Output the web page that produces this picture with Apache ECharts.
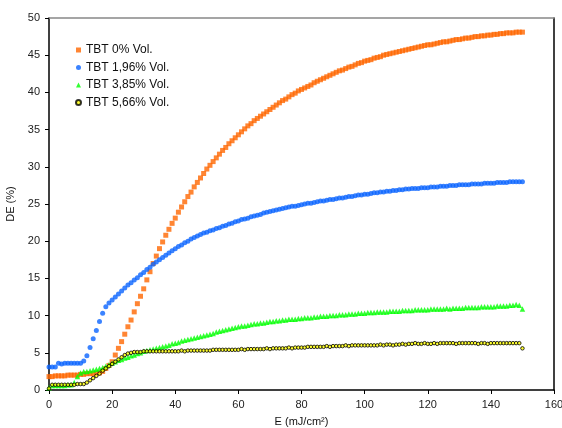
<!DOCTYPE html>
<html>
<head>
<meta charset="utf-8">
<script src="https://cdn.jsdelivr.net/npm/echarts@6/dist/echarts.min.js"></script>
<style>html,body{margin:0;padding:0;background:#fff}#c{width:562px;height:428px}</style>
</head>
<body>
<div id="c"></div>
<script>
var E = [0,1,2,3,4,5,6,7,8,9,10,11,12,13,14,15,16,17,18,19,20,21,22,23,24,25,26,27,28,29,30,31,32,33,34,35,36,37,38,39,40,41,42,43,44,45,46,47,48,49,50,51,52,53,54,55,56,57,58,59,60,61,62,63,64,65,66,67,68,69,70,71,72,73,74,75,76,77,78,79,80,81,82,83,84,85,86,87,88,89,90,91,92,93,94,95,96,97,98,99,100,101,102,103,104,105,106,107,108,109,110,111,112,113,114,115,116,117,118,119,120,121,122,123,124,125,126,127,128,129,130,131,132,133,134,135,136,137,138,139,140,141,142,143,144,145,146,147,148,149,150];

var tbt0 = [1.8,1.8,1.9,1.9,1.9,1.9,2.0,2.0,2.0,2.0,
2.1,2.1,2.2,2.2,2.2,2.3,2.3,2.5,2.9,3.3,
3.8,4.7,5.6,6.5,7.5,8.5,9.4,10.5,11.6,12.6,
13.6,14.8,15.9,17.0,18.0,19.0,19.9,20.8,21.6,22.4,
23.1,23.9,24.6,25.3,26.0,26.6,27.3,27.9,28.5,29.1,
29.7,30.2,30.7,31.2,31.7,32.2,32.6,33.1,33.5,33.9,
34.3,34.7,35.1,35.5,35.8,36.2,36.5,36.8,37.1,37.4,
37.7,38.0,38.3,38.6,38.9,39.1,39.4,39.7,39.9,40.2,
40.4,40.6,40.8,41.0,41.3,41.5,41.7,41.9,42.1,42.3,
42.5,42.7,42.9,43.0,43.2,43.4,43.5,43.7,43.9,44.0,
44.2,44.3,44.4,44.6,44.7,44.8,45.0,45.1,45.2,45.3,
45.4,45.5,45.6,45.7,45.8,45.9,46.0,46.1,46.2,46.3,
46.4,46.4,46.5,46.6,46.7,46.8,46.8,46.9,47.0,47.1,
47.1,47.2,47.3,47.3,47.4,47.5,47.5,47.6,47.6,47.7,
47.7,47.8,47.8,47.9,47.9,48.0,48.0,48.0,48.1,48.1,
48.1];

var tbt196 = [3.1,3.1,3.1,3.6,3.5,3.6,3.6,3.6,3.6,3.6,
3.6,3.9,4.6,5.7,6.9,8.0,9.2,10.3,11.2,11.7,
12.1,12.5,12.9,13.3,13.7,14.1,14.4,14.8,15.1,15.5,
15.8,16.2,16.5,16.9,17.2,17.5,17.8,18.1,18.4,18.7,
19.0,19.3,19.5,19.8,20.0,20.3,20.5,20.7,20.9,21.1,
21.2,21.4,21.5,21.7,21.8,22.0,22.1,22.3,22.4,22.6,
22.7,22.9,23.0,23.1,23.3,23.4,23.5,23.6,23.8,23.9,
24.0,24.1,24.2,24.3,24.4,24.5,24.6,24.7,24.7,24.8,
24.9,25.0,25.1,25.1,25.2,25.3,25.4,25.4,25.5,25.6,
25.6,25.7,25.8,25.8,25.9,26.0,26.0,26.1,26.2,26.2,
26.3,26.3,26.4,26.5,26.5,26.6,26.6,26.7,26.7,26.8,
26.8,26.9,26.9,27.0,27.0,27.1,27.1,27.1,27.2,27.2,
27.2,27.3,27.3,27.3,27.4,27.4,27.4,27.5,27.5,27.5,
27.6,27.6,27.6,27.6,27.7,27.7,27.7,27.7,27.8,27.8,
27.8,27.8,27.9,27.9,27.9,27.9,28.0,28.0,28.0,28.0,
28.0];

var tbt385 = [0.3,0.6,0.6,0.6,0.6,0.6,0.7,0.7,1.0,1.8,
2.3,2.5,2.5,2.6,2.7,2.8,2.9,3.0,3.2,3.4,
3.6,3.8,4.0,4.1,4.3,4.4,4.6,4.7,4.9,5.0,
5.2,5.3,5.4,5.5,5.6,5.7,5.8,5.9,6.0,6.2,
6.3,6.4,6.6,6.7,6.8,6.9,7.0,7.1,7.2,7.3,
7.4,7.5,7.6,7.8,7.9,8.0,8.1,8.2,8.3,8.4,
8.5,8.6,8.6,8.7,8.8,8.9,8.9,9.0,9.0,9.1,
9.2,9.2,9.3,9.3,9.4,9.4,9.5,9.5,9.5,9.6,
9.6,9.7,9.7,9.7,9.8,9.8,9.9,9.9,9.9,10.0,
10.0,10.0,10.1,10.1,10.1,10.2,10.2,10.2,10.3,10.3,
10.3,10.4,10.4,10.4,10.5,10.5,10.5,10.5,10.6,10.6,
10.6,10.6,10.7,10.7,10.7,10.7,10.8,10.8,10.8,10.8,
10.8,10.9,10.9,10.9,10.9,10.9,11.0,10.9,11.0,11.0,
11.0,11.0,11.1,11.1,11.1,11.1,11.1,11.2,11.2,11.2,
11.2,11.2,11.3,11.3,11.3,11.3,11.4,11.4,11.5,11.4,
10.9];

var tbt566 = [0.2,0.7,0.7,0.7,0.7,0.7,0.7,0.7,0.7,0.8,
0.8,0.8,1.0,1.3,1.6,1.9,2.2,2.6,2.9,3.2,
3.5,3.8,4.1,4.4,4.7,4.9,5.0,5.1,5.1,5.1,
5.2,5.2,5.2,5.2,5.2,5.2,5.2,5.2,5.2,5.2,
5.2,5.2,5.3,5.2,5.3,5.3,5.3,5.3,5.3,5.3,
5.3,5.3,5.4,5.4,5.4,5.4,5.4,5.4,5.4,5.4,
5.4,5.5,5.4,5.5,5.5,5.5,5.5,5.5,5.5,5.6,
5.5,5.6,5.6,5.6,5.6,5.6,5.7,5.6,5.7,5.7,
5.7,5.7,5.8,5.8,5.8,5.8,5.8,5.8,5.9,5.8,
5.9,5.9,5.9,5.9,6.0,5.9,6.0,6.0,6.0,6.0,
6.0,6.0,6.0,6.0,6.0,6.1,6.0,6.1,6.1,6.0,
6.1,6.1,6.2,6.1,6.2,6.2,6.3,6.2,6.2,6.3,
6.2,6.2,6.3,6.2,6.3,6.3,6.3,6.3,6.3,6.2,
6.3,6.3,6.3,6.3,6.3,6.3,6.2,6.3,6.3,6.2,
6.3,6.3,6.3,6.3,6.3,6.3,6.3,6.3,6.3,6.3,
5.6];

var seriesNames = ['TBT 0% Vol.', 'TBT 1,96% Vol.', 'TBT 3,85% Vol.', 'TBT 5,66% Vol.'];
var xTicks = [0, 20, 40, 60, 80, 100, 120, 140, 160];
var yTicks = [0, 5, 10, 15, 20, 25, 30, 35, 40, 45, 50];

function pairs(ys) { return ys.map(function (v, i) { return [E[i], v]; }); }

var font = 'Liberation Sans, Arial, sans-serif';
var chart = echarts.init(document.getElementById('c'), null, { renderer: 'canvas' });
chart.setOption({
  animation: false,
  backgroundColor: '#ffffff',
  grid: { left: 49, right: 8, top: 18, bottom: 38, containLabel: false, outerBoundsMode: 'none' },
  legend: {
    orient: 'vertical', left: 70, top: 39, itemGap: 5.5,
    itemWidth: 5, itemHeight: 5,
    textStyle: { fontFamily: font, fontSize: 12, color: '#111', lineHeight: 12 },
    data: seriesNames
  },
  xAxis: [{
    type: 'value', min: xTicks[0], max: xTicks[xTicks.length - 1], interval: 20,
    name: 'E (mJ/cm²)', nameLocation: 'middle', nameGap: 26,
    nameTextStyle: { fontFamily: font, fontSize: 11, color: '#111' },
    axisLine: { show: true, lineStyle: { color: '#000', width: 1.5 } },
    axisTick: { show: true, length: 4, lineStyle: { color: '#000' } },
    axisLabel: { fontFamily: font, fontSize: 11, color: '#222', margin: 9 },
    splitLine: { show: false }
  }, {
    type: 'value', position: 'top', min: 0, max: 160,
    axisLine: { show: true, onZero: false, lineStyle: { color: '#888', width: 1.5 } },
    axisTick: { show: false }, axisLabel: { show: false }, splitLine: { show: false }
  }],
  yAxis: [{
    type: 'value', min: yTicks[0], max: yTicks[yTicks.length - 1], interval: 5,
    name: 'DE (%)', nameLocation: 'middle', nameGap: 25, nameRotate: 90,
    nameTextStyle: { fontFamily: font, fontSize: 11, color: '#111' },
    axisLine: { show: true, lineStyle: { color: '#000', width: 1.5 } },
    axisTick: { show: true, length: 4, lineStyle: { color: '#000' } },
    axisLabel: { fontFamily: font, fontSize: 11, color: '#222', margin: 9 },
    splitLine: { show: false }
  }, {
    type: 'value', position: 'right', min: 0, max: 50,
    axisLine: { show: true, onZero: false, lineStyle: { color: '#000', width: 1.5 } },
    axisTick: { show: false }, axisLabel: { show: false }, splitLine: { show: false }
  }],
  series: [{
    name: seriesNames[0], type: 'scatter', data: pairs(tbt0),
    symbol: 'rect', symbolSize: 5,
    itemStyle: { color: '#FF6600' }
  }, {
    name: seriesNames[1], type: 'scatter', data: pairs(tbt196),
    symbol: 'circle', symbolSize: 5,
    itemStyle: { color: '#0A64FF' }
  }, {
    name: seriesNames[2], type: 'scatter', data: pairs(tbt385),
    symbol: 'triangle', symbolSize: 5.5,
    itemStyle: { color: '#00FF00' }
  }, {
    name: seriesNames[3], type: 'scatter', data: pairs(tbt566),
    symbol: 'circle', symbolSize: 3.5,
    itemStyle: { color: '#FFFF00', borderColor: '#000', borderWidth: 1 }
  }]
});
</script>
</body>
</html>
